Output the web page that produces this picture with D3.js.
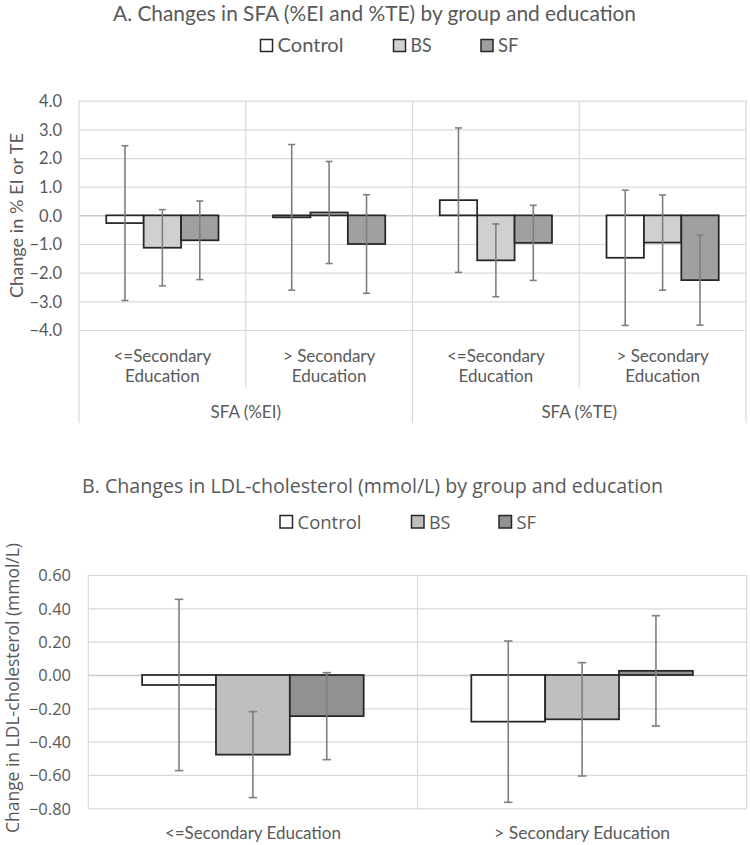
<!DOCTYPE html>
<html>
<head>
<meta charset="utf-8">
<script src="https://cdn.jsdelivr.net/npm/d3@7"></script>
<style>
  html, body { margin: 0; padding: 0; background: #fff; }
  svg { display: block; }
</style>
</head>
<body>
<svg id="chart" width="750" height="845"></svg>
<script>
// ---------- DATA ----------
const seriesNames = ["Control", "BS", "SF"];

// Panel A
const titleA = "A. Changes in SFA (%EI and %TE) by group and education";
const yLabelA = "Change in % EI or TE";
const categoriesA = ["<=Secondary|Education", "> Secondary|Education", "<=Secondary|Education", "> Secondary|Education"];
const groupsA = ["SFA (%EI)", "SFA (%TE)"];
const controlA = [-0.27, -0.07, 0.53, -1.48];
const controlErrA = [2.70, 2.54, 2.52, 2.36];
const bsA = [-1.13, 0.10, -1.57, -0.95];
const bsErrA = [1.33, 1.78, 1.27, 1.66];
const sfA = [-0.87, -1.00, -0.96, -2.26];
const sfErrA = [1.37, 1.72, 1.31, 1.57];
const ticksA = [4.0, 3.0, 2.0, 1.0, 0.0, -1.0, -2.0, -3.0, -4.0];

// Panel B
const titleB = "B. Changes in LDL-cholesterol (mmol/L) by group and education";
const yLabelB = "Change in LDL-cholesterol (mmol/L)";
const categoriesB = ["<=Secondary Education", "> Secondary Education"];
const controlB = [-0.06, -0.28];
const controlErrB = [0.514, 0.484];
const bsB = [-0.478, -0.266];
const bsErrB = [0.258, 0.34];
const sfB = [-0.247, 0.025];
const sfErrB = [0.261, 0.331];
const ticksB = [0.60, 0.40, 0.20, 0.00, -0.20, -0.40, -0.60, -0.80];

// ---------- STYLE ----------
const textColor = "#595959";
const gridColor = "#d9d9d9";
const zeroColor = "#c8c8c8";
const barStroke = "#262626";
const errColor = "#7f7f7f";
const fillsA = ["#ffffff", "#d0d0d0", "#a0a0a0"];
const fillsB = ["#ffffff", "#bfbfbf", "#919191"];

const svg = d3.select("#chart");

function fitLen(sel, len) {
  if (len) sel.attr("textLength", len).attr("lengthAdjust", "spacingAndGlyphs");
  return sel;
}

function buildRows(cats, vals, errs) {
  return cats.map((c, i) => ({
    key: i,
    cat: c,
    values: seriesNames.map((s, j) => ({ series: s, idx: j, v: vals[j][i], e: errs[j][i] }))
  }));
}

function drawPanel(opt) {
  const g = svg.append("g");
  const rows = buildRows(opt.categories, opt.vals, opt.errs);
  const x = d3.scaleBand().domain(rows.map(r => r.key)).range([opt.left, opt.right]).padding(0);
  const cw = x.bandwidth();
  const xs = d3.scaleBand().domain(seriesNames).range([cw * 0.1635, cw * 0.8365]).padding(0);
  const y = d3.scaleLinear().domain(opt.yDomain).range([opt.bottom, opt.top]);

  // horizontal gridlines via axis
  const yAxis = d3.axisLeft(y).tickValues(opt.ticks).tickSize(-(opt.right - opt.left)).tickFormat(opt.fmt).tickPadding(0);
  const ag = g.append("g").attr("transform", `translate(${opt.left},0)`).call(yAxis);
  ag.select(".domain").remove();
  ag.selectAll(".tick line").attr("stroke", d => d === 0 ? zeroColor : gridColor).attr("stroke-width", d => d === 0 ? 1.5 : 1.2);
  ag.selectAll(".tick text")
    .attr("x", opt.tickX - opt.left)
    .attr("fill", textColor)
    .attr("font-family", opt.tickFont)
    .attr("font-size", opt.tickSize)
    .attr("dy", "0.35em")
    .attr("text-anchor", "end");

  // vertical lines at category boundaries
  const bounds = rows.map(r => x(r.key)).concat([opt.right]);
  g.selectAll("line.vb").data(bounds).enter().append("line")
    .attr("x1", d => d).attr("x2", d => d)
    .attr("y1", opt.top)
    .attr("y2", (d, i) => opt.vExt ? opt.vExt(i, bounds.length) : opt.bottom)
    .attr("stroke", gridColor).attr("stroke-width", 1.2);

  // bars
  const cg = g.selectAll("g.cat").data(rows).enter().append("g")
    .attr("transform", r => `translate(${x(r.key)},0)`);
  cg.selectAll("rect").data(r => r.values).enter().append("rect")
    .attr("x", d => xs(d.series))
    .attr("width", xs.bandwidth())
    .attr("y", d => y(Math.max(0, d.v)))
    .attr("height", d => Math.abs(y(d.v) - y(0)))
    .attr("fill", d => opt.fills[d.idx])
    .attr("stroke", barStroke)
    .attr("stroke-width", 1.75);

  // error bars
  const cap = opt.cap;
  cg.selectAll("g.err").data(r => r.values).enter().append("g").each(function (d) {
    const e = d3.select(this);
    const cx = xs(d.series) + xs.bandwidth() / 2;
    e.append("line").attr("x1", cx).attr("x2", cx).attr("y1", y(d.v + d.e)).attr("y2", y(d.v - d.e));
    e.append("line").attr("x1", cx - cap / 2).attr("x2", cx + cap / 2).attr("y1", y(d.v + d.e)).attr("y2", y(d.v + d.e));
    e.append("line").attr("x1", cx - cap / 2).attr("x2", cx + cap / 2).attr("y1", y(d.v - d.e)).attr("y2", y(d.v - d.e));
    e.selectAll("line").attr("stroke", errColor).attr("stroke-width", 1.6);
  });

  // category labels
  rows.forEach(r => {
    const lines = r.cat.split("|");
    lines.forEach((t, li) => {
      const tx = g.append("text")
        .attr("x", x(r.key) + cw / 2)
        .attr("y", opt.catY + li * opt.catLH)
        .attr("text-anchor", "middle")
        .attr("fill", textColor)
        .attr("font-family", opt.catFont)
        .attr("font-size", opt.catSize)
        .text(t);
      if (opt.catLen) fitLen(tx, opt.catLen);
    });
  });

  // title
  fitLen(g.append("text").attr("x", opt.titleX).attr("y", opt.titleY)
    .attr("text-anchor", "middle").attr("fill", textColor)
    .attr("font-family", opt.titleFont).attr("font-size", opt.titleSize).text(opt.title), opt.titleLen);

  // y label
  fitLen(g.append("text")
    .attr("transform", `translate(${opt.yLabX},${opt.yLabY}) rotate(-90)`)
    .attr("text-anchor", "middle").attr("dy", "0.35em").attr("fill", textColor)
    .attr("font-family", opt.yLabFont).attr("font-size", opt.yLabSize).text(opt.yLabel), opt.yLabLen);

  // legend
  const lg = g.append("g");
  seriesNames.forEach((s, i) => {
    const lx = opt.legX[i];
    lg.append("rect").attr("x", lx).attr("y", opt.legY - opt.legBox).attr("width", opt.legBox).attr("height", opt.legBox)
      .attr("fill", opt.fills[i]).attr("stroke", barStroke).attr("stroke-width", 1.5);
    fitLen(lg.append("text").attr("x", lx + opt.legBox + 5).attr("y", opt.legY + 0.5)
      .attr("fill", textColor).attr("font-family", opt.legFont).attr("font-size", opt.legSize).text(s), opt.legLen[i]);
  });

  return { x, y };
}

const A = drawPanel({
  categories: categoriesA,
  vals: [controlA, bsA, sfA],
  errs: [controlErrA, bsErrA, sfErrA],
  fills: fillsA,
  left: 79, right: 746, top: 100.7, bottom: 330,
  yDomain: [-4, 4], ticks: ticksA, fmt: d3.format(".1f"),
  tickX: 62, tickFont: "Lato", tickSize: 16.5,
  cap: 7,
  vExt: (i, n) => (i % 2 === 0) ? 423 : 388,
  catY: 361.5, catLH: 20, catFont: "Lato", catSize: 17, catLen: null,
  title: titleA, titleX: 374.5, titleY: 21, titleFont: "Lato", titleSize: 20.5, titleLen: 523,
  yLabel: yLabelA, yLabX: 17, yLabY: 215.5, yLabFont: "Lato", yLabSize: 17, yLabLen: 165,
  legX: [260.5, 393.5, 481], legY: 51.5, legBox: 12, legFont: "Lato", legSize: 20, legLen: [66, 21, 20.5]
});

// group labels under panel A
groupsA.forEach((gname, i) => {
  const x0 = A.x(i * 2), x1 = A.x(i * 2 + 1) + A.x.bandwidth();
  svg.append("text").attr("x", (x0 + x1) / 2).attr("y", 418)
    .attr("text-anchor", "middle").attr("fill", textColor)
    .attr("font-family", "Lato").attr("font-size", 17).text(gname);
});

drawPanel({
  categories: categoriesB,
  vals: [controlB, bsB, sfB],
  errs: [controlErrB, bsErrB, sfErrB],
  fills: fillsB,
  left: 88.3, right: 746.7, top: 575, bottom: 808.3,
  yDomain: [-0.8, 0.6], ticks: ticksB, fmt: d3.format(".2f"),
  tickX: 71, tickFont: "Open Sans", tickSize: 16.5,
  cap: 8.5,
  vExt: null,
  catY: 839, catLH: 0, catFont: "Lato", catSize: 17, catLen: 176,
  title: titleB, titleX: 372.5, titleY: 493, titleFont: "Open Sans", titleSize: 19.5, titleLen: 581,
  yLabel: yLabelB, yLabX: 12.5, yLabY: 688, yLabFont: "Open Sans", yLabSize: 19, yLabLen: 290,
  legX: [280, 411.5, 499], legY: 528, legBox: 12.5, legFont: "Open Sans", legSize: 19, legLen: [64, 21.5, 19.5]
});
</script>
</body>
</html>
